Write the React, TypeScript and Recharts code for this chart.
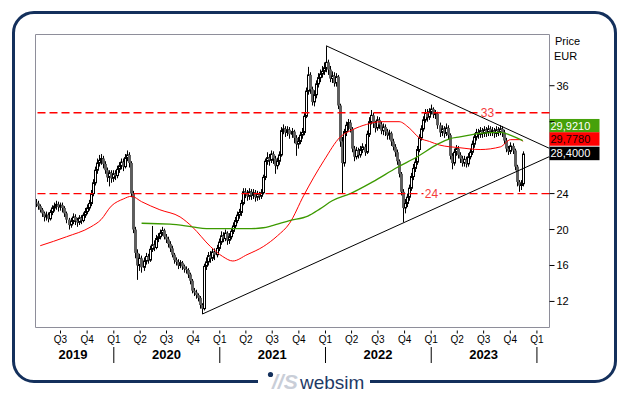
import React from 'react';
import { ComposedChart, Bar, Line, XAxis, YAxis, ReferenceLine, ReferenceArea } from 'recharts';

// Weekly candles (week 0 = early April 2019)
const firstOpen = 23.0;
const closes = [
  22.9, 22.6, 22.2, 21.8, 21.4, 21.6, 21.2, 21.9, 22.4, 22.6,
  22.8, 22.5, 22.7, 22.4, 21.8, 21.1, 20.5, 20.9, 21.4, 21.0,
  20.8, 21.3, 21.0, 21.6, 22.0, 22.4, 22.9, 24.0, 25.2, 26.6,
  27.4, 27.7, 27.9, 27.3, 26.6, 25.8, 26.3, 25.7, 26.2, 26.0,
  26.7, 27.1, 27.5, 27.0, 28.0, 28.3, 27.4, 24.0, 20.0, 17.4,
  16.0, 16.8, 15.8, 16.5, 17.0, 16.6, 17.8, 18.3, 18.0, 19.0,
  19.2, 19.6, 19.9, 19.2, 18.9, 18.4, 17.9, 17.2, 16.6, 16.4,
  16.0, 16.3, 15.9, 15.6, 15.5, 15.0, 14.3, 13.2, 13.0, 12.7,
  12.4, 11.6, 11.2, 15.9, 16.4, 17.1, 16.8, 17.5, 17.2, 17.9,
  18.6, 19.3, 19.0, 19.6, 18.8, 19.2, 19.8, 20.4, 21.0, 21.6,
  21.9, 22.9, 24.2, 24.0, 23.7, 24.2, 23.8, 24.1, 23.6, 23.9,
  23.7, 24.1, 25.8, 27.6, 28.0, 27.7, 28.4, 27.9, 27.1, 27.6,
  28.3, 31.0, 31.2, 30.8, 31.1, 30.6, 30.9, 30.2, 29.5, 29.8,
  30.5, 30.8, 32.6, 35.4, 37.2, 35.6, 34.2, 35.0, 36.2, 36.9,
  37.3, 37.6, 38.0, 38.6, 37.8, 36.8, 37.1, 36.3, 37.0, 33.8,
  29.8, 27.4, 30.9, 31.6, 31.9, 31.2, 29.0, 28.1, 28.8, 28.3,
  28.9, 29.2, 28.6, 30.6, 32.0, 32.7, 31.8, 31.3, 32.2, 31.7,
  31.0, 31.4, 30.9, 30.5, 30.7, 29.8, 29.2, 28.6, 27.6, 26.2,
  24.2, 22.4, 22.9, 23.6, 24.6, 25.9, 26.8, 27.5, 28.9, 30.2,
  31.2, 32.2, 33.0, 32.5, 33.1, 33.4, 32.8, 32.9, 31.6, 30.8,
  31.2, 30.7, 31.3, 30.5, 28.2, 27.4, 28.6, 29.0, 28.3, 27.9,
  27.4, 27.8, 27.3, 28.1, 28.6, 29.5, 30.3, 30.8, 30.6, 31.0,
  30.7, 31.1, 30.8, 31.2, 30.9, 31.0, 30.7, 31.1, 30.9, 31.2,
  30.8, 29.9, 29.0, 28.7, 29.3, 28.8, 27.0, 25.3, 24.9, 25.1, 28.4,
];
const highs = [
  23.4, 23.2, 22.8, 22.4, 22.0, 22.0, 21.9, 22.2, 22.7, 23.0,
  23.2, 23.1, 23.0, 23.0, 22.6, 22.0, 21.3, 21.3, 21.8, 21.7,
  21.3, 21.6, 21.6, 21.9, 22.4, 22.8, 23.3, 24.4, 25.6, 27.0,
  27.9, 28.3, 28.4, 28.2, 27.6, 26.9, 26.6, 26.6, 26.6, 26.6,
  27.1, 27.5, 27.9, 27.9, 28.4, 28.8, 28.6, 27.6, 24.3, 20.3,
  17.8, 17.3, 17.1, 16.9, 17.4, 17.3, 18.2, 20.4, 18.8, 19.4,
  19.6, 20.0, 20.3, 20.1, 19.5, 19.2, 18.7, 18.2, 17.4, 16.9,
  16.7, 16.6, 16.5, 16.1, 15.9, 15.7, 15.2, 14.5, 13.5, 13.3,
  12.9, 12.6, 11.8, 16.2, 16.9, 17.5, 17.6, 17.9, 17.9, 18.3,
  19.0, 19.8, 19.7, 20.0, 19.8, 19.6, 20.2, 20.8, 21.4, 22.0,
  22.3, 23.3, 24.6, 24.6, 24.4, 24.6, 24.5, 24.5, 24.4, 24.3,
  24.2, 24.5, 26.1, 27.9, 28.6, 28.4, 28.8, 28.7, 28.2, 28.0,
  28.7, 31.4, 31.7, 31.5, 31.5, 31.4, 31.3, 31.1, 30.5, 30.3,
  30.9, 31.3, 33.0, 35.8, 38.1, 37.5, 35.9, 35.5, 36.6, 37.4,
  37.8, 38.2, 38.6, 40.4, 38.9, 38.2, 37.6, 37.5, 37.4, 37.2,
  34.0, 30.3, 31.2, 32.0, 32.3, 32.2, 31.4, 29.3, 29.2, 29.1,
  29.3, 29.6, 29.5, 31.0, 32.5, 33.3, 33.0, 32.1, 32.6, 32.5,
  32.0, 31.8, 31.7, 31.2, 31.1, 30.9, 30.1, 29.5, 28.9, 27.8,
  26.4, 24.5, 23.4, 24.0, 25.0, 26.3, 27.3, 28.0, 29.3, 30.6,
  31.6, 32.6, 33.4, 33.4, 33.5, 33.9, 33.6, 33.3, 33.1, 31.9,
  31.6, 31.5, 31.8, 31.6, 30.7, 28.5, 29.0, 29.4, 29.3, 28.6,
  28.2, 28.2, 28.1, 28.5, 29.0, 29.9, 30.7, 31.2, 31.2, 31.4,
  31.3, 31.5, 31.4, 31.6, 31.5, 31.4, 31.3, 31.5, 31.4, 31.6,
  31.5, 31.1, 30.2, 29.3, 29.7, 29.6, 29.0, 27.2, 25.5, 25.5, 28.7,
];
const lows = [
  22.5, 22.2, 21.9, 21.4, 20.9, 21.0, 20.8, 21.0, 21.6, 22.0,
  22.2, 22.0, 22.1, 21.9, 21.4, 20.7, 20.0, 20.2, 20.6, 20.5,
  20.3, 20.5, 20.6, 20.8, 21.3, 21.7, 22.1, 22.6, 23.7, 24.9,
  26.2, 27.0, 27.2, 26.8, 26.2, 25.3, 24.8, 25.2, 25.3, 25.5,
  25.7, 26.3, 26.7, 26.5, 26.8, 27.6, 26.9, 23.6, 19.6, 16.8,
  14.4, 15.4, 15.2, 15.4, 16.1, 16.2, 16.4, 17.5, 17.6, 17.8,
  18.6, 18.9, 19.3, 18.9, 18.5, 18.0, 17.5, 16.9, 16.2, 16.0,
  15.6, 15.7, 15.5, 15.2, 15.1, 14.6, 13.9, 12.9, 12.6, 12.3,
  12.0, 11.2, 10.6, 11.0, 15.5, 16.0, 16.3, 16.5, 16.6, 16.9,
  17.6, 18.3, 18.6, 18.7, 18.3, 18.4, 18.9, 19.5, 20.1, 20.7,
  21.2, 21.5, 22.7, 23.5, 23.2, 23.3, 23.3, 23.4, 23.1, 23.2,
  23.3, 23.4, 23.9, 25.5, 27.2, 27.1, 27.4, 27.3, 26.2, 26.7,
  27.2, 28.1, 30.6, 30.3, 30.4, 30.1, 30.2, 29.6, 28.2, 29.0,
  29.5, 30.1, 30.5, 32.4, 35.0, 35.1, 33.8, 33.7, 34.6, 35.8,
  36.4, 36.9, 37.2, 37.5, 37.2, 36.4, 36.3, 35.9, 35.9, 33.4,
  29.2, 24.0, 27.0, 30.4, 31.0, 30.8, 28.6, 27.6, 27.8, 27.9,
  28.0, 28.5, 28.2, 28.4, 30.3, 31.7, 31.3, 30.8, 31.0, 31.2,
  30.6, 30.5, 30.4, 30.0, 30.0, 29.3, 28.8, 28.1, 27.2, 25.8,
  23.8, 20.8, 21.8, 22.5, 23.2, 24.3, 25.5, 26.4, 27.2, 28.6,
  29.9, 30.9, 31.9, 32.0, 32.2, 32.8, 32.4, 32.3, 31.2, 30.3,
  30.4, 30.2, 30.4, 30.0, 27.8, 26.7, 27.1, 28.2, 27.9, 27.4,
  27.0, 27.0, 26.9, 27.0, 27.8, 28.3, 29.1, 29.9, 30.1, 30.2,
  30.2, 30.3, 30.3, 30.4, 30.4, 30.4, 30.2, 30.3, 30.4, 30.5,
  30.3, 29.5, 28.6, 28.3, 28.4, 28.4, 26.6, 24.8, 24.2, 24.4, 24.8,
];

// Moving averages (sampled)
const redMaWeeks = [2, 15, 27, 32, 37, 43, 47, 52, 61, 71, 77, 86, 92, 97, 104, 112, 119, 125, 132, 142, 150, 156, 163, 170, 179, 184, 189, 194, 199, 209, 219, 229, 234, 239, 240];
const redMaValues = [18.2, 19.2, 20.3, 21.1, 22.6, 23.4, 23.7, 23.1, 22.2, 21.4, 20.3, 18.1, 17.0, 16.5, 17.2, 18.1, 19.3, 20.7, 23.8, 27.7, 30.3, 31.1, 31.7, 32.0, 32.0, 31.3, 30.2, 29.8, 29.4, 29.1, 28.9, 29.2, 30.0, 30.0, 29.8];
const greenMaWeeks = [52, 66, 77, 84, 96, 106, 112, 116, 125, 134, 140, 146, 155, 166, 178, 188, 198, 204, 209, 219, 229, 235, 240];
const greenMaValues = [20.7, 20.6, 20.3, 20.1, 20.1, 20.1, 20.2, 20.4, 21.0, 21.5, 22.3, 23.2, 24.0, 25.3, 26.9, 28.1, 29.5, 30.1, 30.3, 30.7, 30.8, 30.4, 29.9];

// Axis ticks
const quarterTicks = [12, 25.14, 38.29, 51.29, 64.29, 77.43, 90.57, 103.43, 116.43, 129.57, 142.71, 155.57, 168.57, 181.71, 194.86, 207.71, 220.71, 233.86, 247];
const quarterLabels = ['Q3', 'Q4', 'Q1', 'Q2', 'Q3', 'Q4', 'Q1', 'Q2', 'Q3', 'Q4', 'Q1', 'Q2', 'Q3', 'Q4', 'Q1', 'Q2', 'Q3', 'Q4', 'Q1'];
const yearCenters = [18.2, 64.29, 116.43, 168.57, 220.71];
const yearLabels = ['2019', '2020', '2021', '2022', '2023'];
const yearSeparators = [38.29, 90.57, 142.71, 194.86, 247];
const priceTicks = [12, 16, 20, 24, 28, 32, 36];
const coveredPriceTicks = [28, 32]; // hidden behind the value tags

// Levels and trend lines
const levels = [33, 24];
const downTrend = [{ w: 143, v: 40.45 }, { w: 253, v: 29.05 }];
const upTrend = [{ w: 82, v: 10.6 }, { w: 253, v: 28.1 }];
const lastGreenMa = 29.921;
const lastRedMa = 29.778;
const lastClose = 28.4;

const X_DOMAIN: [number, number] = [-0.33, 253.2];
const Y_DOMAIN: [number, number] = [9.1, 41.7];

const data: any[] = closes.map((c, i) => ({
  w: i,
  o: i === 0 ? firstOpen : closes[i - 1],
  c,
  h: highs[i],
  l: lows[i],
  range: [lows[i], highs[i]],
}));
redMaWeeks.forEach((w, k) => { data[w].maRed = redMaValues[k]; });
greenMaWeeks.forEach((w, k) => { data[w].maGreen = greenMaValues[k]; });

const Candle = (props: any) => {
  const { x, y, width, height, payload } = props;
  if (!payload || height == null || isNaN(y)) return null;
  const { o, c, h, l } = payload;
  const px = Math.round(x + width / 2);
  const k = height / (h - l);
  const top = y + (h - Math.max(o, c)) * k;
  const bot = y + (h - Math.min(o, c)) * k;
  const up = c >= o;
  return (
    <g>
      <line x1={px + 0.5} x2={px + 0.5} y1={y} y2={y + height} stroke="#000" strokeWidth={1} />
      {up ? (
        <rect x={px - 0.5} y={top} width={2} height={Math.max(bot - top, 1)} fill="#fff" stroke="#000" strokeWidth={1} />
      ) : (
        <rect x={px - 1} y={top} width={3} height={Math.max(bot - top, 1)} fill="#5e5e5e" />
      )}
    </g>
  );
};

const QuarterTick = (props: any) => {
  const { x, y, payload } = props;
  const i = quarterTicks.indexOf(payload.value);
  return (
    <g>
      <line x1={x} x2={x} y1={y + 3} y2={y + 6} stroke="#000" strokeWidth={1} />
      <text x={x} y={y + 15} textAnchor="middle" fontSize={10} fill="#000">{quarterLabels[i]}</text>
    </g>
  );
};

const YearTick = (props: any) => {
  const { x, y, payload } = props;
  const si = yearSeparators.indexOf(payload.value);
  if (si >= 0) {
    return <line x1={x} x2={x} y1={y + 2.5} y2={y + 18.5} stroke="#000" strokeWidth={1} />;
  }
  const i = yearCenters.indexOf(payload.value);
  return (
    <text x={x} y={y + 14.5} textAnchor="middle" fontSize={13} fontWeight="bold" fill="#000">{yearLabels[i]}</text>
  );
};

const PriceTick = (props: any) => {
  const { x, y, payload } = props;
  if (coveredPriceTicks.includes(payload.value)) return <g />;
  return <text x={x} y={y + 4} fontSize={11} fill="#000" textAnchor="start">{payload.value}</text>;
};

const PriceTag = (props: any) => {
  const { viewBox, bg, fg, text, dy } = props;
  if (!viewBox) return null;
  const bx = viewBox.x + viewBox.width;
  const by = viewBox.y + dy;
  return (
    <g>
      <rect x={bx} y={by} width={50} height={13.5} fill={bg} />
      <text x={bx + 1} y={by + 10.8} fontSize={11} fill={fg}>{text}</text>
    </g>
  );
};

const LevelTag = (props: any) => {
  const { viewBox, frac, text } = props;
  if (!viewBox) return null;
  const cx = viewBox.x + viewBox.width * frac;
  const cy = viewBox.y;
  return (
    <g>
      <rect x={cx - 8} y={cy - 6} width={16} height={12} fill="#fff" />
      <text x={cx} y={cy + 4.5} textAnchor="middle" fontSize={12} fill="#f43a3a">{text}</text>
    </g>
  );
};

const fmt = (v: number) => v.toFixed(4).replace('.', ',');

export default function App() {
  return (
    <div style={{ position: 'absolute', left: 0, top: 0, width: 629, height: 395, background: '#fff', fontFamily: '"Liberation Sans", Arial, sans-serif', overflow: 'hidden' }}>
      <div style={{ position: 'absolute', left: 12, top: 11, width: 605, height: 372, boxSizing: 'border-box', border: '3px solid #14305c', borderRadius: 22 }} />
      <div style={{ position: 'absolute', left: 0, top: 0 }}>
        <ComposedChart width={629} height={395} data={data} margin={{ top: 34.5, right: 0, bottom: 25.5, left: 35.5 }}>
          <XAxis xAxisId="q" dataKey="w" type="number" domain={X_DOMAIN} allowDataOverflow ticks={quarterTicks} interval={0}
            axisLine={false} tickLine={false} tickSize={0} tickMargin={0} height={17} tick={(p: any) => <QuarterTick {...p} />} />
          <XAxis xAxisId="yr" dataKey="w" type="number" domain={X_DOMAIN} allowDataOverflow
            ticks={[...yearSeparators, ...yearCenters].sort((a, b) => a - b)} interval={0}
            axisLine={false} tickLine={false} tickSize={0} tickMargin={0} height={25} tick={(p: any) => <YearTick {...p} />} />
          <YAxis orientation="right" width={79.5} domain={Y_DOMAIN} allowDataOverflow ticks={priceTicks} interval={0}
            axisLine={false} tickSize={5} tickMargin={2} tickLine={{ stroke: '#000' }} tick={(p: any) => <PriceTick {...p} />} />
          <ReferenceArea xAxisId="q" x1={X_DOMAIN[0]} x2={X_DOMAIN[1]} y1={Y_DOMAIN[0]} y2={Y_DOMAIN[1]}
            fill="none" stroke="#8e8e9a" strokeWidth={1} ifOverflow="visible" />
          <Bar xAxisId="q" dataKey="range" barSize={3} isAnimationActive={false} shape={(p: any) => <Candle {...p} />} />
          <Line xAxisId="q" dataKey="maRed" type="monotone" stroke="#ff0000" strokeWidth={1} dot={false} activeDot={false} connectNulls isAnimationActive={false} />
          <Line xAxisId="q" dataKey="maGreen" type="monotone" stroke="#3c9a00" strokeWidth={1.3} dot={false} activeDot={false} connectNulls isAnimationActive={false} />
          <ReferenceLine xAxisId="q" y={levels[0]} stroke="#ff0000" strokeWidth={1.4} strokeDasharray="8 4"
            label={<LevelTag frac={0.8794} text={String(levels[0])} />} />
          <ReferenceLine xAxisId="q" y={levels[1]} stroke="#ff0000" strokeWidth={1.4} strokeDasharray="8 4"
            label={<LevelTag frac={0.7704} text={String(levels[1])} />} />
          <ReferenceLine xAxisId="q" ifOverflow="visible" stroke="#000" strokeWidth={1}
            segment={[{ x: downTrend[0].w, y: downTrend[0].v }, { x: downTrend[1].w, y: downTrend[1].v }]} />
          <ReferenceLine xAxisId="q" ifOverflow="visible" stroke="#000" strokeWidth={1}
            segment={[{ x: upTrend[0].w, y: upTrend[0].v }, { x: upTrend[1].w, y: upTrend[1].v }]} />
          <ReferenceLine xAxisId="q" y={lastGreenMa} stroke="none" ifOverflow="visible"
            label={<PriceTag bg="#46a10a" fg="#ffffff" text={fmt(lastGreenMa)} dy={-21.4} />} />
          <ReferenceLine xAxisId="q" y={lastRedMa} stroke="none" ifOverflow="visible"
            label={<PriceTag bg="#ff0000" fg="#200000" text={fmt(lastRedMa)} dy={-9.4} />} />
          <ReferenceLine xAxisId="q" y={lastClose} stroke="none" ifOverflow="visible"
            label={<PriceTag bg="#000000" fg="#ffffff" text={fmt(lastClose)} dy={-7.35} />} />
        </ComposedChart>
      </div>
      <div style={{ position: 'absolute', left: 555, top: 35, fontSize: 11, color: '#000' }}>Price</div>
      <div style={{ position: 'absolute', left: 554, top: 50, fontSize: 11, color: '#000' }}>EUR</div>
      <div style={{ position: 'absolute', left: 258, top: 366, width: 112, height: 26, background: '#fff' }}>
        <svg width={112} height={26} style={{ position: 'absolute', left: 0, top: 0 }}>
          <circle cx={12.5} cy={8.5} r={2.6} fill="#14305c" />
          <text x={14} y={23} fontSize={21} fontWeight="bold" fontStyle="italic" fill="#c9ced8">//S</text>
          <text x={42} y={23} fontSize={19} fill="#1e3a66">websim</text>
        </svg>
      </div>
    </div>
  );
}
